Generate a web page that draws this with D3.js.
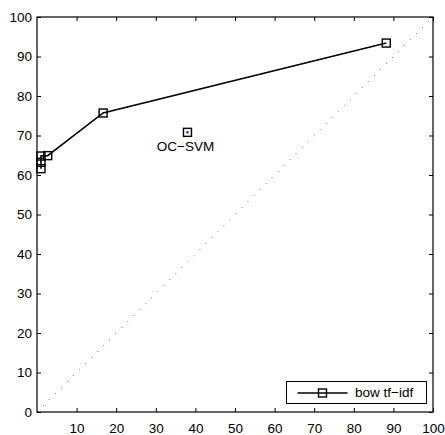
<!DOCTYPE html>
<html>
<head>
<meta charset="utf-8">
<script src="https://cdn.jsdelivr.net/npm/d3@7"></script>
<style>
  html, body { margin: 0; padding: 0; background: #fff; }
  svg { display: block; font-family: "Liberation Sans", Arial, Helvetica, sans-serif; }
</style>
</head>
<body>
<svg id="chart" width="445" height="435"></svg>
<script>
// bow tf-idf curve
const bowX = [1.0, 1.0, 1.0, 2.7, 16.7, 88.2];
const bowY = [61.6, 63.2, 64.8, 64.9, 75.7, 93.4];
// single OC-SVM operating point
const ocsvmX = [38.0];
const ocsvmY = [70.8];
const ocsvmLabel = ["OC\u2212SVM"];
const xTicks = [10, 20, 30, 40, 50, 60, 70, 80, 90, 100];
const yTicks = [0, 10, 20, 30, 40, 50, 60, 70, 80, 90, 100];
const legendLabel = "bow tf\u2212idf";

(function () {
const svg = d3.select("#chart");
const pL = 37, pR = 433, pT = 17, pB = 412;
const fs = 13.5;
const x = d3.scaleLinear().domain([0, 100]).range([pL, pR]);
const y = d3.scaleLinear().domain([0, 100]).range([pB, pT]);

// chance diagonal
svg.append("line")
  .attr("x1", x(0)).attr("y1", y(0)).attr("x2", x(100)).attr("y2", y(100))
  .attr("stroke", "#666").attr("stroke-width", 1)
  .attr("stroke-dasharray", "1,7.5");

// axes with inward ticks on all four sides
const fmt = d3.format("d");
const axB = svg.append("g").attr("transform", `translate(0,${pB})`)
  .call(d3.axisBottom(x).tickValues(xTicks).tickSizeInner(-4).tickSizeOuter(0).tickPadding(11).tickFormat(fmt));
const axT = svg.append("g").attr("transform", `translate(0,${pT})`)
  .call(d3.axisTop(x).tickValues(xTicks).tickSizeInner(-4).tickSizeOuter(0).tickFormat(""));
const axL = svg.append("g").attr("transform", `translate(${pL},0)`)
  .call(d3.axisLeft(y).tickValues(yTicks).tickSizeInner(-4).tickSizeOuter(0).tickPadding(5).tickFormat(fmt));
const axR = svg.append("g").attr("transform", `translate(${pR},0)`)
  .call(d3.axisRight(y).tickValues(yTicks).tickSizeInner(-4).tickSizeOuter(0).tickFormat(""));
[axB, axT, axL, axR].forEach(g => {
  g.attr("font-size", fs).attr("font-family", "'Liberation Sans', Arial, sans-serif");
  g.select(".domain").remove();
  g.selectAll("line").attr("stroke", "#000").attr("stroke-width", 1);
  g.selectAll("text").attr("fill", "#000");
});

// frame
svg.append("rect").attr("x", pL).attr("y", pT)
  .attr("width", pR - pL).attr("height", pB - pT)
  .attr("fill", "none").attr("stroke", "#000").attr("stroke-width", 1.2);

// bow tf-idf line with square markers
const pts = bowX.map((v, i) => [v, bowY[i]]);
svg.append("path").datum(pts)
  .attr("d", d3.line().x(d => x(d[0])).y(d => y(d[1])))
  .attr("fill", "none").attr("stroke", "#000").attr("stroke-width", 1.6);
const ms = 8;
svg.selectAll(".m").data(pts).enter().append("rect")
  .attr("x", d => x(d[0]) - ms / 2).attr("y", d => y(d[1]) - ms / 2)
  .attr("width", ms).attr("height", ms)
  .attr("fill", "none").attr("stroke", "#000").attr("stroke-width", 1.4);

// OC-SVM point: square with center dot
ocsvmX.forEach((v, i) => {
  const cx = x(v), cy = y(ocsvmY[i]);
  svg.append("rect").attr("x", cx - ms / 2).attr("y", cy - ms / 2)
    .attr("width", ms).attr("height", ms)
    .attr("fill", "none").attr("stroke", "#000").attr("stroke-width", 1.4);
  svg.append("rect").attr("x", cx - 1).attr("y", cy - 1)
    .attr("width", 2).attr("height", 2).attr("fill", "#000");
  svg.append("text").attr("x", cx - 2).attr("y", cy + 18.5)
    .attr("text-anchor", "middle").attr("font-size", fs).text(ocsvmLabel[i]);
});

// legend
const lg = svg.append("g");
lg.append("rect").attr("x", 286.5).attr("y", 381.5).attr("width", 140).attr("height", 22)
  .attr("fill", "#fff").attr("stroke", "#000").attr("stroke-width", 1);
lg.append("line").attr("x1", 297.5).attr("x2", 347.5).attr("y1", 393).attr("y2", 393)
  .attr("stroke", "#000").attr("stroke-width", 1.6);
lg.append("rect").attr("x", 322.5 - ms / 2).attr("y", 393 - ms / 2)
  .attr("width", ms).attr("height", ms)
  .attr("fill", "none").attr("stroke", "#000").attr("stroke-width", 1.4);
lg.append("text").attr("x", 355).attr("y", 397.3).attr("font-size", fs).text(legendLabel);
})();
</script>
</body>
</html>
